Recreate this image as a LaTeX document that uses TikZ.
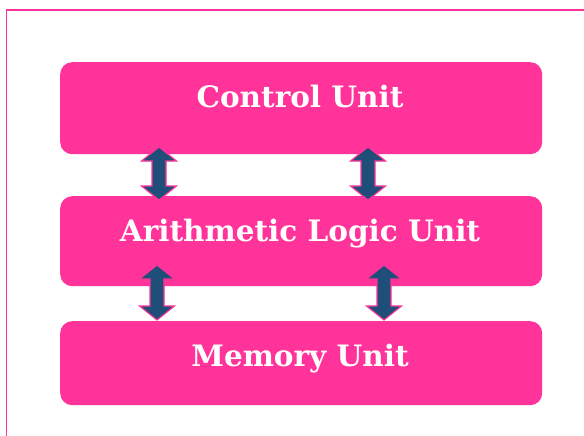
\documentclass[tikz,border=0pt]{standalone}
\usepackage{fontspec}
\setmainfont{DejaVu Serif}
\definecolor{cpink}{HTML}{FF3399}
\definecolor{cblue}{HTML}{1F4E79}
\newcommand{\dblarr}[4]{% name, x, top, bottom
  \path (#2,#3) coordinate (#1t) (#2,#4) coordinate (#1b);
  \filldraw[fill=cblue,draw=cpink,line width=1.1pt,line join=miter]
    (#2,#3) -- (#2+17.5,#3+14) -- (#2+7,#3+14) -- (#2+7,#4-14) -- (#2+17.5,#4-14)
    -- (#2,#4) -- (#2-17.5,#4-14) -- (#2-7,#4-14) -- (#2-7,#3+14) -- (#2-17.5,#3+14) -- cycle;
}
\begin{document}
\begin{tikzpicture}[x=1pt,y=-1pt,
  unitbox/.style={fill=cpink,draw=none,rounded corners=12pt,minimum width=482pt,inner sep=0pt,anchor=north west},
  unittext/.style={text=white,font=\bfseries\fontsize{29.5}{32}\selectfont,anchor=base,inner sep=0pt}]
\useasboundingbox[fill=white] (0,0) rectangle (584,436);
\draw[cpink,line width=1.8pt] (6.5,440) -- (6.5,10) -- (590,10);
\node[unitbox,minimum height=92pt] (cu) at (60,62) {};
\node[unitbox,minimum height=90pt] (alu) at (60,196) {};
\node[unitbox,minimum height=84pt] (mu) at (60,321) {};
\node[unittext] (cut) at (300,107) {Control Unit};
\node[unittext] (alut) at (300,241) {Arithmetic Logic Unit};
\node[unittext] (mut) at (300,366) {Memory Unit};
\dblarr{a1}{159}{147}{200}
\dblarr{a2}{368}{147}{200}
\dblarr{a3}{157}{265}{320}
\dblarr{a4}{384}{265}{320}
\end{tikzpicture}
\end{document}
